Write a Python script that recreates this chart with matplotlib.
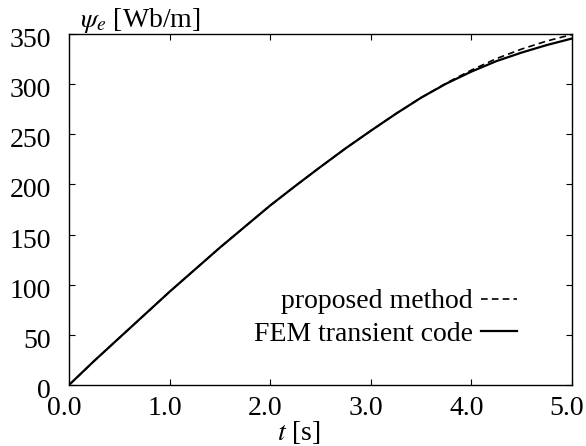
import matplotlib
matplotlib.use("Agg")
import matplotlib.pyplot as plt
import matplotlib.transforms as mtransforms

plt.rcParams['font.family'] = ['Liberation Serif', 'DejaVu Serif']
plt.rcParams['mathtext.fontset'] = 'stix'

# time [s]
t = [0.0, 0.25, 0.5, 0.75, 1.0, 1.25, 1.5, 1.75, 2.0, 2.25, 2.5,
     2.75, 3.0, 3.25, 3.5, 3.75, 4.0, 4.25, 4.5, 4.75, 5.0]
# flux linkage [Wb/m]
psi_fem = [0, 24, 47, 70, 93, 115, 137, 158, 179, 198.5, 217.5,
           236, 253.5, 270.5, 286.5, 300.5, 312.5, 323, 331.5, 339, 345.5]
psi_proposed = [0, 24, 47, 70, 93, 115, 137, 158, 179, 198.5, 217.5,
                236, 253.5, 270.5, 286.5, 301, 314, 325.5, 335, 343, 349.5]

xticks = [0, 1, 2, 3, 4, 5]
xticklabels = ['0.0', '1.0', '2.0', '3.0', '4.0', '5.0']
yticks = [0, 50, 100, 150, 200, 250, 300, 350]

fig = plt.figure(figsize=(5.86, 4.46), dpi=100)
ax = fig.add_axes([69 / 586, 1 - 385 / 446, (572 - 69) / 586, (385 - 34) / 446])

ax.plot(t, psi_proposed, color='black', lw=1.2, linestyle=(0, (4, 2.5)), label='proposed method')
ax.plot(t, psi_fem, color='black', lw=1.6, label='FEM transient code')

ax.set_xlim(0, 5)
ax.set_ylim(0, 350)
ax.set_xticks(xticks)
ax.set_xticklabels(xticklabels)
ax.set_yticks(yticks)
ax.tick_params(direction='in', top=True, right=True, length=4, width=0.8, labelsize=20)
ax.tick_params(axis='x', pad=8)
ax.tick_params(axis='y', pad=13)
for s in ax.spines.values():
    s.set_linewidth(1.0)

# shift tick labels slightly like the original
dx = mtransforms.ScaledTranslation(-5 / 100, 0, fig.dpi_scale_trans)
for lab in ax.get_xticklabels():
    lab.set_transform(lab.get_transform() + dx)
dy = mtransforms.ScaledTranslation(0, -3.5 / 100, fig.dpi_scale_trans)
for lab in ax.get_yticklabels():
    lab.set_transform(lab.get_transform() + dy)

fig.text(298.5 / 586, 1 - 440 / 446, r'$t$ [s]', fontsize=20, ha='center', va='baseline')
fig.text(80 / 586, 1 - 27 / 446, r'$\psi_e$ [Wb/m]', fontsize=20, ha='left', va='baseline')

ax.legend(loc='lower right', bbox_to_anchor=(517 / 586, 1 - 347 / 446),
          bbox_transform=fig.transFigure, frameon=False, markerfirst=False,
          fontsize=20, handlelength=1.3, handletextpad=0.3, labelspacing=0.26,
          borderpad=0, borderaxespad=0)

fig.savefig('out.png', dpi=100)
